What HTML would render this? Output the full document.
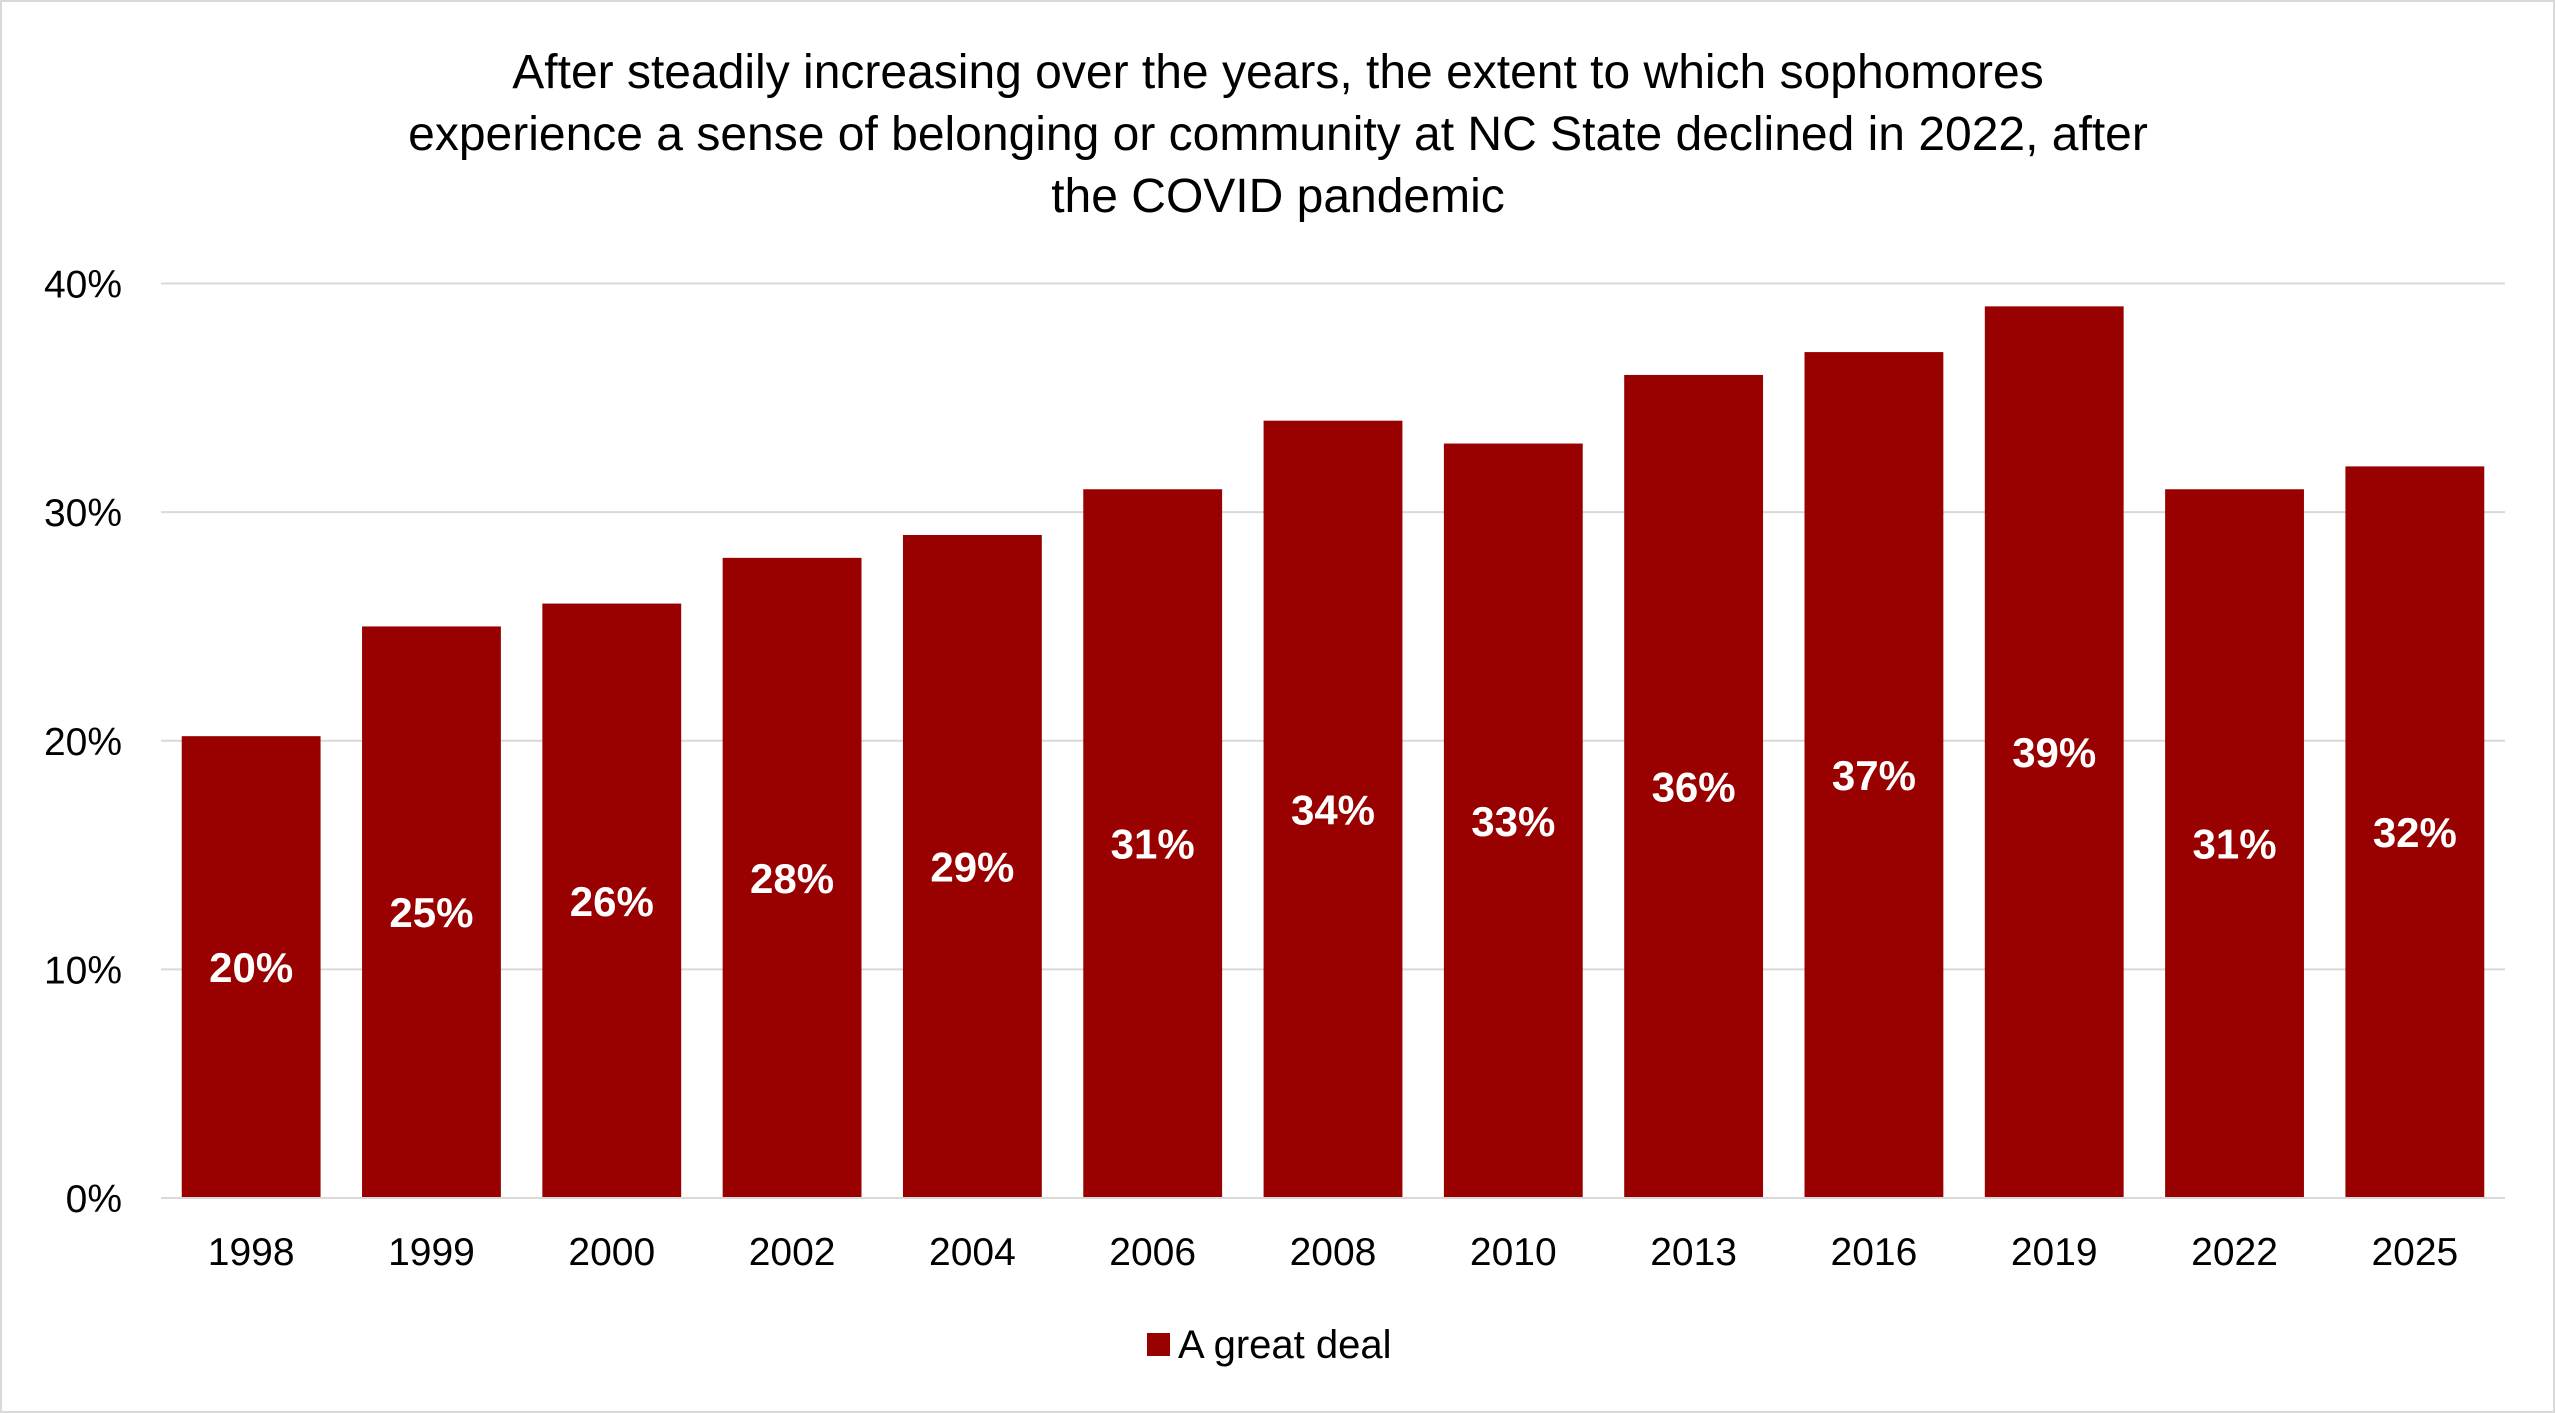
<!DOCTYPE html>
<html><head><meta charset="utf-8"><style>
html,body{margin:0;padding:0;background:#fff;}
svg{display:block;font-family:"Liberation Sans",Arial,sans-serif;}
</style></head><body>
<svg id="chart" width="2555" height="1413" viewBox="0 0 2555 1413" xmlns="http://www.w3.org/2000/svg">
<rect x="1" y="1" width="2553" height="1411" fill="#fff" stroke="#d9d9d9" stroke-width="2"/>
<g font-size="48" fill="#000" text-anchor="middle">
<text x="1278" y="88">After steadily increasing over the years, the extent to which sophomores</text>
<text x="1278" y="150">experience a sense of belonging or community at NC State declined in 2022, after</text>
<text x="1278" y="212">the COVID pandemic</text>
</g>
<g id="grid"></g>
<g id="yticks"></g>
<g id="bars"></g>
<g id="xticks"></g>
<g>
<rect x="1147" y="1333" width="23" height="23" fill="#990000"/>
<text x="1178" y="1358" font-size="40" fill="#000">A great deal</text>
</g>
</svg>
<script>
const categories=["1998","1999","2000","2002","2004","2006","2008","2010","2013","2016","2019","2022","2025"];
const values=[20.2,25,26,28,29,31,34,33,36,37,39,31,32];
const labels=["20%","25%","26%","28%","29%","31%","34%","33%","36%","37%","39%","31%","32%"];
const yTicks=[0,10,20,30,40];
const yTickLabels=["0%","10%","20%","30%","40%"];
const NS="http://www.w3.org/2000/svg";
const L=161,R=2505,Y0=1198,Y40=283.5;
const y=v=>Y0-(v/40)*(Y0-Y40);
const band=(R-L)/categories.length;
const x=i=>L+band*i;
function mk(t,a,p){const e=document.createElementNS(NS,t);for(const k in a)e.setAttribute(k,a[k]);p.appendChild(e);return e;}
const grid=document.getElementById('grid'),yt=document.getElementById('yticks'),bars=document.getElementById('bars'),xt=document.getElementById('xticks');
yTicks.forEach((t,i)=>{
 const ln=mk('line',{x1:L,x2:R,y1:y(t),y2:y(t),stroke:'#d9d9d9','stroke-width':2},grid);
 
 
 const tx=mk('text',{x:122,y:y(t)+14,'text-anchor':'end','font-size':39,fill:'#000'},yt);
 tx.textContent=yTickLabels[i];
 
 
});
const bw=band*0.77;
values.forEach((v,i)=>{
 const cx=x(i)+band/2;
 const r=mk('rect',{x:cx-bw/2,y:y(v),width:bw,height:Y0-y(v),fill:'#990000'},bars);
 
 
 const t=mk('text',{x:cx,y:(y(v)+Y0)/2+15,'text-anchor':'middle','font-size':42,'font-weight':'bold',fill:'#fff'},bars);
 t.textContent=labels[i];
 
 
 const c=mk('text',{x:cx,y:1265,'text-anchor':'middle','font-size':39,fill:'#000'},xt);
 c.textContent=categories[i];
 
 
});
const ax=mk('line',{x1:L,x2:R,y1:Y0,y2:Y0,stroke:'#d9d9d9','stroke-width':2},xt);


</script>
</body></html>
